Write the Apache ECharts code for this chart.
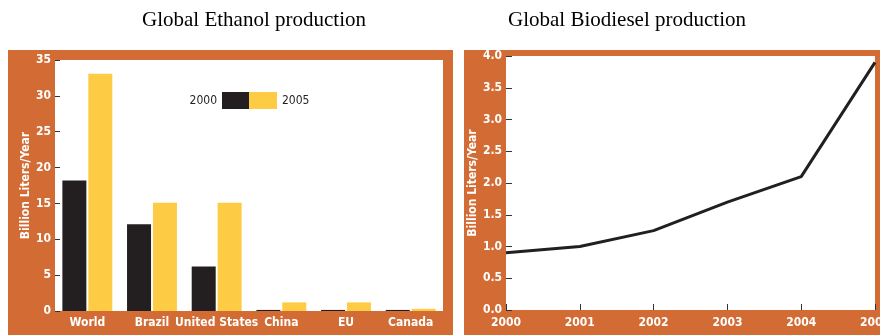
<!DOCTYPE html>
<html>
<head>
<meta charset="utf-8">
<script src="https://cdn.jsdelivr.net/npm/echarts@6/dist/echarts.min.js"></script>
<style>
html,body{margin:0;padding:0;background:#fff;}
#chart{width:880px;height:335px;}
</style>
</head>
<body>
<div id="chart"></div>
<script>
// Ethanol chart data
var ethanolCategories = ['World', 'Brazil', 'United States', 'China', 'EU', 'Canada'];
var ethanol2000 = [18.2, 12.1, 6.2, 0.15, 0.15, 0.15];
var ethanol2005 = [33.1, 15.1, 15.1, 1.2, 1.2, 0.3];
var ethanolTicks = [0, 5, 10, 15, 20, 25, 30, 35];

// Biodiesel chart data
var biodieselYears = ['2000', '2001', '2002', '2003', '2004', '2005'];
var biodieselValues = [0.9, 1.0, 1.25, 1.7, 2.1, 3.9];
var biodieselTicks = [0.0, 0.5, 1.0, 1.5, 2.0, 2.5, 3.0, 3.5, 4.0];

var ORANGE = '#d26b34';
var DARK = '#231f20';
var YELLOW = '#fecb45';
var COND = "'DejaVu Sans Condensed', 'Liberation Sans Narrow', sans-serif";
var SERIF = "'Liberation Serif', 'Times New Roman', serif";

var chart = echarts.init(document.getElementById('chart'), null, {renderer: 'canvas'});

var labelStyle = {color: '#fff', fontFamily: COND, fontWeight: 'bold', fontSize: 12};

var option = {
  animation: false,
  backgroundColor: '#ffffff',
  title: [
    {text: 'Global Ethanol production', left: 254, top: 10, textAlign: 'center', padding: 0,
     textStyle: {fontFamily: SERIF, fontSize: 21, fontWeight: 'normal', color: '#000'}},
    {text: 'Global Biodiesel production', left: 627, top: 10, textAlign: 'center', padding: 0,
     textStyle: {fontFamily: SERIF, fontSize: 21, fontWeight: 'normal', color: '#000'}}
  ],
  graphic: [
    {type: 'rect', z: -10, silent: true, shape: {x: 8, y: 50, width: 445, height: 285}, style: {fill: ORANGE}},
    {type: 'rect', z: -10, silent: true, shape: {x: 464, y: 50, width: 416, height: 285}, style: {fill: ORANGE}}
  ],
  legend: [
    {data: ['2000'], align: 'right', right: 880 - 249, top: 92, itemWidth: 27, itemHeight: 17, padding: 0,
     selectedMode: false, icon: 'rect',
     textStyle: {fontFamily: COND, fontSize: 12, color: DARK}},
    {data: ['2005'], align: 'left', left: 249, top: 92, itemWidth: 28, itemHeight: 17, padding: 0,
     selectedMode: false, icon: 'rect',
     textStyle: {fontFamily: COND, fontSize: 12, color: DARK}}
  ],
  grid: [
    {left: 55, top: 60, width: 388, height: 251, show: true, backgroundColor: '#ffffff', borderWidth: 0,
     outerBoundsMode: 'none', containLabel: false},
    {left: 506, top: 56, width: 369, height: 254, show: true, backgroundColor: '#ffffff', borderWidth: 0,
     outerBoundsMode: 'none', containLabel: false}
  ],
  xAxis: [
    {type: 'category', gridIndex: 0, data: ethanolCategories,
     axisLine: {show: false}, axisTick: {show: false},
     axisLabel: Object.assign({margin: 6, interval: 0}, labelStyle)},
    {type: 'category', gridIndex: 1, data: biodieselYears, boundaryGap: false,
     axisLine: {show: false},
     axisTick: {show: true, inside: true, length: 6, lineStyle: {color: '#333', width: 1}},
     axisLabel: Object.assign({margin: 7, interval: 0}, labelStyle)}
  ],
  yAxis: [
    {type: 'value', gridIndex: 0, min: ethanolTicks[0], max: ethanolTicks[ethanolTicks.length - 1], interval: 5,
     name: 'Billion Liters/Year', nameLocation: 'middle', nameGap: 23,
     nameTextStyle: {color: '#fff', fontFamily: COND, fontWeight: 'bold', fontSize: 12},
     axisLine: {show: false}, splitLine: {show: false},
     axisTick: {show: true, inside: true, length: 5, lineStyle: {color: '#333'}},
     axisLabel: Object.assign({margin: 4}, labelStyle)},
    {type: 'value', gridIndex: 1, min: biodieselTicks[0], max: biodieselTicks[biodieselTicks.length - 1], interval: 0.5,
     name: 'Billion Liters/Year', nameLocation: 'middle', nameGap: 24,
     nameTextStyle: {color: '#fff', fontFamily: COND, fontWeight: 'bold', fontSize: 12},
     axisLine: {show: false}, splitLine: {show: false},
     axisTick: {show: true, inside: true, length: 6, lineStyle: {color: '#333'}},
     axisLabel: Object.assign({margin: 4, formatter: function (v) { return v.toFixed(1); }}, labelStyle)}
  ],
  series: [
    {name: '2000', type: 'bar', xAxisIndex: 0, yAxisIndex: 0, data: ethanol2000,
     barWidth: 24, barGap: '8%', itemStyle: {color: DARK}},
    {name: '2005', type: 'bar', xAxisIndex: 0, yAxisIndex: 0, data: ethanol2005,
     barWidth: 24, barGap: '8%', itemStyle: {color: YELLOW}},
    {name: 'Biodiesel', type: 'line', xAxisIndex: 1, yAxisIndex: 1, data: biodieselValues,
     symbol: 'none', lineStyle: {color: DARK, width: 3}}
  ]
};
chart.setOption(option);
</script>
</body>
</html>
